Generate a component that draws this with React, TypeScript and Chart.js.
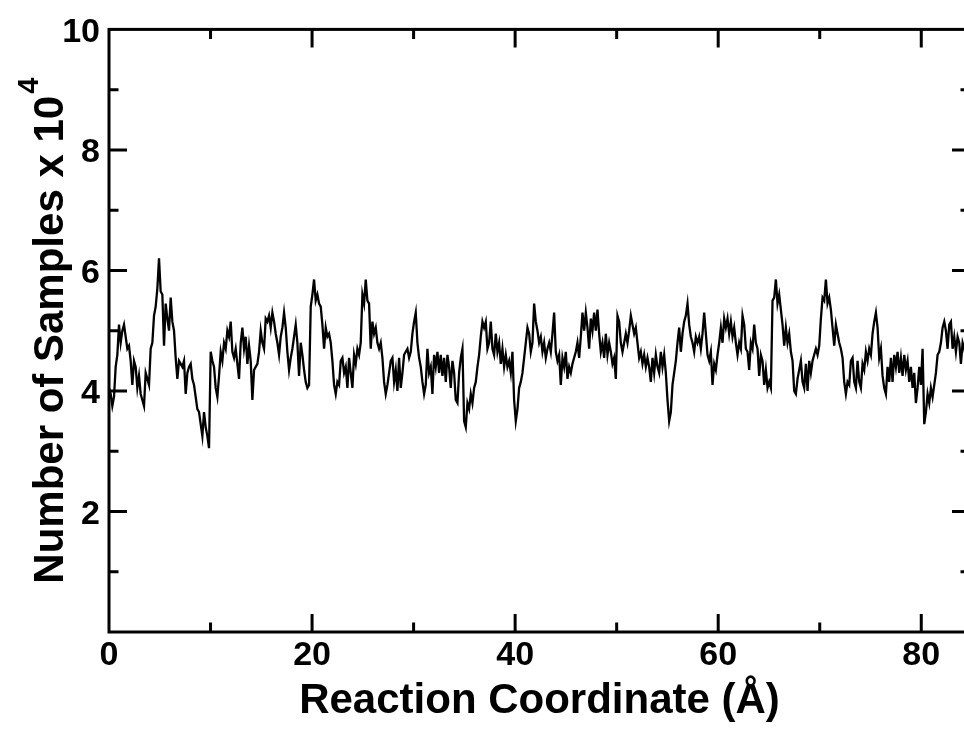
import React, { useEffect, useRef } from "react";
import { Chart, registerables } from "chart.js";

Chart.register(...registerables);

// Sampling grid along the reaction coordinate (Å)
const SAMPLE_STEP = 0.1642;
const X_MIN = 0;
const X_MAX = 84.8;
const Y_MIN = 0;
const Y_MAX = 10;
const X_TICK_STEP = 20;
const Y_TICK_STEP = 2;

const X_TITLE = "Reaction Coordinate (Å)";
const Y_TITLE_MAIN = "Number of Samples x 10";
const Y_TITLE_SUP = "4";

// Number of samples (x 10^4), ~0 – 21 Å
const samplesA = [
  4.05, 3.95, 3.75, 3.9, 4.4, 4.6, 5.1, 4.8, 5.0, 5.1,
  4.9, 4.7, 4.75, 4.5, 4.1, 4.5, 4.4, 4.05, 4.25, 3.95,
  3.85, 3.75, 4.3, 4.2, 4.1, 4.7, 4.8, 5.25, 5.4, 5.7,
  6.2, 5.65, 5.6, 4.75, 5.45, 5.2, 5.0, 5.55, 5.15, 5.0,
  4.55, 4.2, 4.5, 4.45, 4.4, 4.5, 3.95, 4.3, 4.4, 4.45,
  4.2, 4.1, 3.9, 3.7, 3.65, 3.45, 3.25, 3.65, 3.4, 3.25,
  3.05, 4.65, 4.5, 4.4, 4.05, 3.9, 4.25, 4.65, 4.5, 4.8,
  4.7, 5.0, 4.9, 5.15, 4.65, 4.55, 4.7, 4.45, 4.2, 4.8,
  5.05, 4.7, 4.9, 4.45, 4.75, 4.5, 3.85, 4.35, 4.4, 4.45,
  4.65, 5.0, 4.8, 4.7, 5.2, 5.15, 5.25, 5.05, 5.3, 5.15,
  4.95, 4.8, 4.6, 4.9, 5.05, 5.3, 5.05, 4.65, 4.35, 4.55,
  4.7, 4.9, 5.1, 4.8, 4.25, 4.8, 4.6, 4.35, 4.15, 4.05,
  4.1, 5.4, 5.6, 5.85, 5.5, 5.6, 5.45,
];

// ~21 – 42 Å
const samplesB = [
  5.4, 5.1, 4.7, 5.05, 4.9, 4.95, 4.8, 4.5, 4.1, 3.95,
  4.15, 4.1, 4.5, 4.55, 4.3, 4.4, 4.05, 4.55, 4.3, 4.05,
  4.6, 4.45, 4.7, 4.6, 4.8, 5.6, 5.45, 5.85, 5.5, 5.45,
  4.7, 5.15, 4.95, 5.05, 4.8, 4.7, 4.8, 4.55, 4.15, 3.95,
  4.1, 4.3, 4.5, 4.55, 4.15, 4.35, 4.0, 4.55, 4.05, 4.3,
  4.6, 4.65, 4.7, 4.55, 4.65, 4.95, 5.15, 5.3, 4.8, 4.55,
  4.4, 4.15, 3.95, 4.1, 4.7, 4.3, 4.4, 3.95, 4.6, 4.4,
  4.65, 4.3, 4.6, 4.25, 4.55, 4.15, 4.6, 4.4, 4.05, 4.5,
  4.3, 3.85, 3.8, 4.3, 4.55, 4.7, 3.5, 3.4, 3.8, 3.7,
  3.95, 3.8, 4.05, 4.15, 4.4, 4.6, 4.9, 5.15, 5.05, 5.15,
  4.7, 4.8, 5.15, 4.7, 4.6, 4.95, 4.65, 4.8, 4.45, 4.7,
  4.4, 4.6, 4.4, 4.5, 4.3, 4.65, 3.85, 3.5, 3.7, 4.05,
  4.15, 4.3, 4.55, 4.8, 5.05, 4.95, 4.65, 4.8,
];

// ~42 – 63 Å
const samplesC = [
  5.45, 5.15, 5.0, 4.8, 4.9, 4.65, 4.8, 4.55, 4.7, 4.8,
  4.65, 4.95, 5.3, 4.65, 4.5, 4.6, 4.1, 4.55, 4.4, 4.65,
  4.2, 4.4, 4.3, 4.45, 4.55, 4.65, 4.8, 4.55, 4.9, 5.3,
  5.0, 5.3, 5.05, 4.7, 5.2, 5.0, 5.3, 5.0, 5.35, 4.95,
  4.65, 4.8, 4.55, 4.95, 4.6, 4.8, 4.65, 4.45, 4.55, 4.2,
  5.25, 5.15, 4.8, 4.65, 4.8, 4.95, 4.8, 5.0, 5.25, 5.1,
  4.95, 5.05, 4.8, 4.55, 4.65, 4.45, 4.6, 4.4, 4.55, 4.4,
  4.15, 4.55, 4.3, 4.6, 4.4, 4.3, 4.65, 4.4, 4.6, 4.3,
  3.85, 3.5, 3.65, 4.1, 4.3, 4.5, 4.8, 5.05, 4.65, 4.95,
  5.15, 5.25, 5.45, 5.1, 4.9, 4.8, 4.65, 4.9, 4.8, 4.9,
  4.7, 4.95, 5.3, 4.95, 4.6, 4.5, 4.65, 4.1, 4.45, 4.35,
  4.6, 4.8, 5.05, 4.8, 5.2, 5.05, 5.2, 4.95, 5.15, 4.9,
  5.05, 4.8, 4.6, 4.8, 4.7, 5.25, 5.1, 4.7,
];

// ~63 – 85 Å
const samplesD = [
  4.65, 4.35, 4.8, 4.7, 5.1, 4.8, 4.7, 4.25, 4.6, 4.5,
  4.1, 4.35, 4.05, 4.15, 4.05, 5.5, 5.55, 5.85, 5.45, 5.6,
  5.35, 5.1, 4.75, 5.05, 4.8, 4.95, 4.65, 4.5, 4.0, 3.95,
  4.2, 4.35, 4.5, 4.15, 4.05, 4.45, 4.0, 4.5, 4.3, 4.5,
  4.6, 4.7, 4.6, 4.75, 5.2, 5.55, 5.5, 5.85, 5.45, 5.55,
  5.35, 5.05, 4.75, 5.1, 4.95, 4.8, 4.7, 4.55, 4.15, 3.95,
  4.15, 4.1, 4.5, 4.55, 4.15, 4.05, 4.5, 4.15, 4.05, 4.45,
  4.35, 4.65, 4.5, 4.7, 4.6, 4.95, 5.15, 5.3, 5.05, 4.55,
  4.7, 4.25, 4.05, 3.95, 4.4, 4.15, 4.55, 4.15, 4.6, 4.4,
  4.65, 4.3, 4.55, 4.25, 4.6, 4.35, 4.5, 4.15, 4.4, 4.05,
  4.3, 3.8, 4.05, 4.4, 4.1, 4.7, 3.45, 3.65, 3.95, 3.8,
  4.05, 3.9, 4.1, 4.3, 4.6, 4.65, 4.8, 5.05, 5.15, 5.0,
  4.7, 5.1, 5.15, 4.7, 4.9, 4.65, 4.9, 4.8, 4.45, 4.8,
  4.7, 4.55, 4.75, 4.6,
];

const FONT_FAMILY = '"Liberation Sans", Arial, Helvetica, sans-serif';

const framePlugin = {
  id: "frameAndTicks",
  afterDraw(chart: any) {
    const { ctx, chartArea } = chart;
    const xs = chart.scales.x;
    const ys = chart.scales.y;
    const { left, right, top, bottom } = chartArea;
    ctx.save();
    ctx.strokeStyle = "#000";
    ctx.lineWidth = 3;
    ctx.lineCap = "butt";
    ctx.strokeRect(left, top, right - left, bottom - top);

    // y ticks, inward on both sides
    for (let v = Y_MIN + 1; v < Y_MAX; v += 1) {
      const y = ys.getPixelForValue(v);
      const len = v % Y_TICK_STEP === 0 ? 18 : 9.5;
      ctx.beginPath();
      ctx.moveTo(left, y);
      ctx.lineTo(left + len, y);
      ctx.moveTo(right, y);
      ctx.lineTo(right - len, y);
      ctx.stroke();
    }
    // x ticks, inward on both sides
    for (let v = 10; v < X_MAX; v += 10) {
      const x = xs.getPixelForValue(v);
      const len = v % X_TICK_STEP === 0 ? 18 : 9.5;
      ctx.beginPath();
      ctx.moveTo(x, bottom);
      ctx.lineTo(x, bottom - len);
      ctx.moveTo(x, top);
      ctx.lineTo(x, top + len);
      ctx.stroke();
    }

    // y-axis title with superscript
    const cy = (top + bottom) / 2;
    ctx.fillStyle = "#000";
    ctx.textBaseline = "alphabetic";
    ctx.textAlign = "left";
    const mainFont = `bold 42px ${FONT_FAMILY}`;
    const supFont = `bold 29px ${FONT_FAMILY}`;
    ctx.font = mainFont;
    const wMain = ctx.measureText(Y_TITLE_MAIN).width;
    ctx.font = supFont;
    const wSup = ctx.measureText(Y_TITLE_SUP).width;
    const total = wMain + 2 + wSup;
    ctx.translate(63, cy);
    ctx.rotate(-Math.PI / 2);
    ctx.font = mainFont;
    ctx.fillText(Y_TITLE_MAIN, -total / 2, 0);
    ctx.font = supFont;
    ctx.fillText(Y_TITLE_SUP, -total / 2 + wMain + 2, -25);
    ctx.restore();
  },
};

export default function App() {
  const canvasRef = useRef<HTMLCanvasElement | null>(null);

  useEffect(() => {
    const canvas = canvasRef.current;
    if (!canvas) return;
    const values = [...samplesA, ...samplesB, ...samplesC, ...samplesD];
    const points = values.map((y, i) => ({ x: i * SAMPLE_STEP, y }));

    const chart = new Chart(canvas, {
      type: "line",
      data: {
        datasets: [
          {
            data: points,
            borderColor: "#000",
            borderWidth: 2.3,
            pointRadius: 0,
            tension: 0,
            fill: false,
          },
        ],
      },
      options: {
        responsive: false,
        animation: false,
        devicePixelRatio: 1,
        layout: { padding: { top: 27, right: 10, left: 0, bottom: 0 } },
        plugins: {
          legend: { display: false },
          tooltip: { enabled: false },
        },
        scales: {
          x: {
            type: "linear",
            min: X_MIN,
            max: X_MAX,
            grid: { display: false, drawTicks: false },
            border: { display: false },
            ticks: {
              stepSize: X_TICK_STEP,
              includeBounds: false,
              padding: 3,
              color: "#000",
              maxRotation: 0,
              autoSkip: false,
              font: { family: FONT_FAMILY, size: 34, weight: "bold" },
            },
            title: {
              display: true,
              text: X_TITLE,
              color: "#000",
              padding: { top: 0, bottom: 2 },
              font: { family: FONT_FAMILY, size: 42, weight: "bold" },
            },
            afterFit: (scale: any) => {
              scale.height = 97;
            },
          },
          y: {
            type: "linear",
            min: Y_MIN,
            max: Y_MAX,
            grid: { display: false, drawTicks: false },
            border: { display: false },
            ticks: {
              stepSize: Y_TICK_STEP,
              padding: 9,
              labelOffset: 3,
              color: "#000",
              font: { family: FONT_FAMILY, size: 34, weight: "bold" },
              callback: (v: any) => (Number(v) === 0 ? "" : String(v)),
            },
            afterFit: (scale: any) => {
              scale.width = 109;
            },
          },
        },
      },
      plugins: [framePlugin],
    });
    return () => chart.destroy();
  }, []);

  return (
    <div
      style={{
        position: "fixed",
        left: 0,
        top: 0,
        width: 964,
        height: 729,
        overflow: "hidden",
        background: "#fff",
      }}
    >
      <canvas ref={canvasRef} width={980} height={729} style={{ display: "block" }} />
    </div>
  );
}
